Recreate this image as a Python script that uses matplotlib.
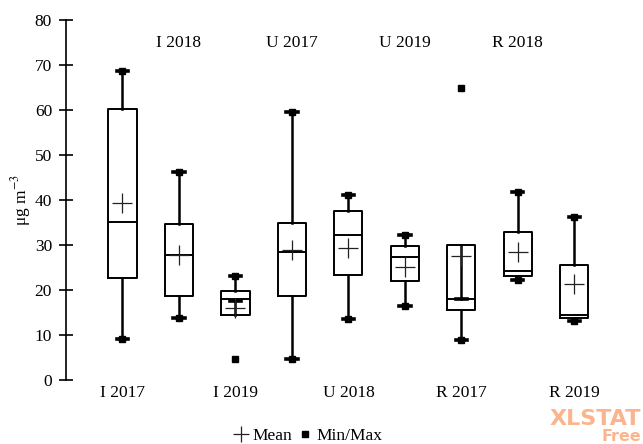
import matplotlib
matplotlib.use('Agg')
import matplotlib.pyplot as plt
from matplotlib.lines import Line2D
import matplotlib.transforms as mtransforms

plt.rcParams['font.family'] = ['Liberation Serif', 'DejaVu Serif']
plt.rcParams['mathtext.fontset'] = 'stix'

# site / year groups
labels = ['I 2017', 'I 2018', 'I 2019', 'U 2017', 'U 2018', 'U 2019',
          'R 2017', 'R 2018', 'R 2019']
q1 = [22.6, 18.6, 14.4, 18.6, 23.3, 21.9, 15.5, 23.1, 13.8]
med = [35.2, 27.8, 18.1, 28.4, 32.3, 27.3, 18.1, 24.2, 14.4]
q3 = [60.2, 34.7, 19.8, 35.0, 37.5, 29.7, 29.9, 33.0, 25.5]
whis_lo = [9.1, 13.8, 17.6, 4.6, 13.5, 16.5, 9.0, 22.2, 13.1]
whis_hi = [68.7, 46.3, 23.1, 59.5, 41.2, 32.3, 18.1, 41.8, 36.2]
means = [39.3, 27.8, 16.1, 28.9, 29.3, 25.1, 27.5, 28.4, 21.4]
mins = [9.1, 13.8, 4.6, 4.6, 13.5, 16.5, 9.0, 22.2, 13.1]
maxs = [68.7, 46.3, 23.1, 59.5, 41.2, 32.3, 64.8, 41.8, 36.2]

stats = []
for i in range(len(labels)):
    stats.append({
        'label': labels[i], 'q1': q1[i], 'med': med[i], 'q3': q3[i],
        'whislo': whis_lo[i], 'whishi': whis_hi[i], 'mean': means[i],
        'fliers': [],
    })

fig = plt.figure(figsize=(6.43, 4.44), dpi=100)
ax = fig.add_axes([0.1026, 0.1441, 0.8784, 0.8109])

pos = list(range(1, len(labels) + 1))
ax.bxp(stats, positions=pos, widths=0.5, showmeans=True, showfliers=False,
       capwidths=0.2,
       boxprops=dict(color='black', linewidth=1.4),
       medianprops=dict(color='black', linewidth=1.4),
       whiskerprops=dict(color='black', linewidth=1.8),
       capprops=dict(color='black', linewidth=2.6),
       meanprops=dict(marker='+', markersize=14, markeredgecolor='#222222',
                      markeredgewidth=0.9))

# min / max markers
ax.plot(pos, mins, 's', color='black', markersize=4.5, linestyle='none')
ax.plot(pos, maxs, 's', color='black', markersize=4.5, linestyle='none')

ax.set_xlim(0, 10)
ax.set_ylim(0, 80)
ax.set_yticks(range(0, 81, 10))
ax.tick_params(axis='y', direction='inout', length=10, width=1.2,
               labelsize=12.5, pad=5)
ax.set_xticks([])
for s in ['top', 'right', 'bottom']:
    ax.spines[s].set_visible(False)
ax.spines['left'].set_linewidth(1.2)

# category names alternate below the axis and at the top
trans = mtransforms.blended_transform_factory(ax.transData, ax.transAxes)
for i, lab in enumerate(labels):
    if i % 2 == 0:
        ax.text(pos[i], -0.036, lab, transform=trans, ha='center',
                va='center', fontsize=12.5)
    else:
        ax.text(pos[i], 0.935, lab, transform=trans, ha='center',
                va='center', fontsize=12.5)

ax.set_ylabel(r'μg m$^{-3}$', fontsize=12.5, labelpad=1)

handles = [
    Line2D([], [], marker='+', linestyle='none', color='#222222',
           markersize=12, markeredgewidth=0.9),
    Line2D([], [], marker='s', linestyle='none', color='black', markersize=4),
]
fig.legend(handles, ['Mean', 'Min/Max'], loc='center',
           bbox_to_anchor=(0.478, 0.018), ncol=2, frameon=False,
           fontsize=12.5, handletextpad=0.2, columnspacing=0.2,
           handlelength=1.0)

fig.text(0.997, 0.034, 'XLSTAT', color='#fbb48c', fontsize=16,
         fontweight='bold', family='DejaVu Sans', ha='right', va='bottom')
fig.text(0.997, 0.0, 'Free', color='#fbb48c', fontsize=11.5,
         fontweight='bold', family='DejaVu Sans', ha='right', va='bottom')

fig.savefig('out.png', dpi=100)
